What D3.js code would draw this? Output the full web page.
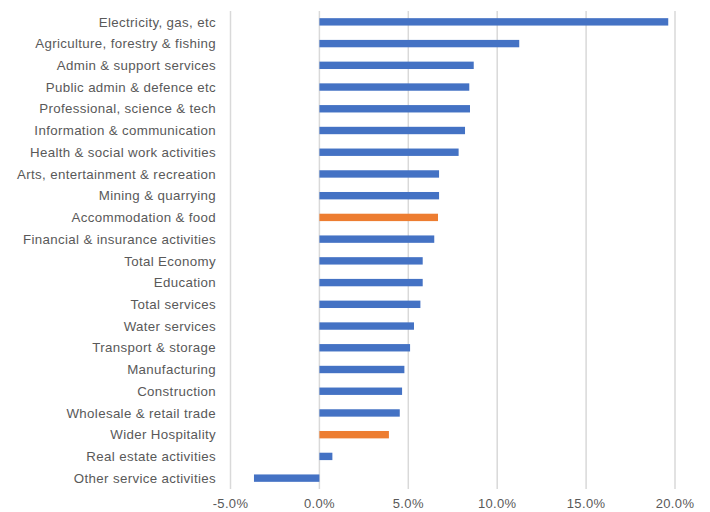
<!DOCTYPE html>
<html><head><meta charset="utf-8">
<script src="https://cdn.jsdelivr.net/npm/d3@7"></script>
<style>body{margin:0;background:#fff;}svg{display:block;}</style>
</head><body>
<svg id="c" width="710" height="512"></svg>
<script>
const categories = ["Electricity, gas, etc","Agriculture, forestry & fishing","Admin & support services","Public admin & defence etc","Professional, science & tech","Information & communication","Health & social work activities","Arts, entertainment & recreation","Mining & quarrying","Accommodation & food","Financial & insurance activities","Total Economy","Education","Total services","Water services","Transport & storage","Manufacturing","Construction","Wholesale & retail trade","Wider Hospitality","Real estate activities","Other service activities"];
const values = [19.62,11.24,8.68,8.43,8.47,8.19,7.83,6.73,6.73,6.67,6.46,5.81,5.81,5.68,5.32,5.10,4.78,4.65,4.52,3.91,0.73,-3.68];
const highlighted = ["Accommodation & food","Wider Hospitality"];
const tickValues = [-5,0,5,10,15,20];

const svg = d3.select("#c");
const x = d3.scaleLinear().domain([-5,20]).range([230.5,675]);
const y = d3.scaleBand().domain(categories).range([11,489]).paddingInner(0.66).paddingOuter(0.33);
const font = "'Liberation Sans', Arial, sans-serif";

svg.append("g").selectAll("line").data(tickValues).join("line")
  .attr("x1",d=>x(d)).attr("x2",d=>x(d)).attr("y1",11).attr("y2",489)
  .attr("stroke","#d9d9d9").attr("stroke-width",1.5);

svg.append("g").selectAll("rect").data(categories).join("rect")
  .attr("x",(d,i)=>x(Math.min(0,values[i])))
  .attr("width",(d,i)=>Math.abs(x(values[i])-x(0)))
  .attr("y",d=>y(d)).attr("height",y.bandwidth())
  .attr("fill",d=>highlighted.includes(d)?"#ED7D31":"#4472C4");

svg.append("g").selectAll("text").data(categories).join("text")
  .attr("x",216).attr("y",d=>y(d)+y.bandwidth()/2).attr("dy","0.35em")
  .attr("text-anchor","end").attr("font-family",font).attr("font-size",13.3)
  .attr("letter-spacing","0.35px")
  .attr("fill","#595959").text(d=>d);

svg.append("g").selectAll("text").data(tickValues).join("text")
  .attr("x",d=>x(d)).attr("y",508).attr("text-anchor","middle")
  .attr("font-family",font).attr("font-size",13).attr("letter-spacing","0.35px")
  .attr("fill","#595959")
  .text(d=>d3.format(".1f")(d).replace("\u2212","-")+"%");
</script>
</body></html>
